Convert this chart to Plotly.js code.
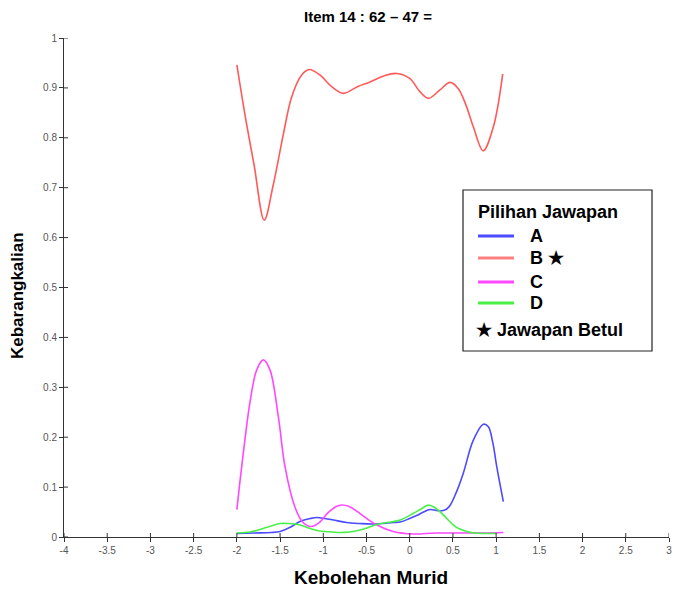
<!DOCTYPE html>
<html>
<head>
<meta charset="utf-8">
<script src="https://cdn.plot.ly/plotly-3.0.1.min.js"></script>
<style>html,body{margin:0;padding:0;background:#fff;}#chart{width:673px;height:590px;}</style>
</head>
<body>
<div id="chart"></div>
<script>
// ---- data ----
var titleText = "Item 14 : 62 \u2013 47 =";
var xTitle = "Kebolehan Murid";
var yTitle = "Kebarangkalian";
var legendTitle = "Pilihan Jawapan";
var optionNames = ["A", "B \u2605", "C", "D"];
var correctNote = "\u2605 Jawapan Betul";

var xTickVals = [-4,-3.5,-3,-2.5,-2,-1.5,-1,-0.5,0,0.5,1,1.5,2,2.5,3];
var xTickText = ["-4","-3.5","-3","-2.5","-2","-1.5","-1","-0.5","0","0.5","1","1.5","2","2.5","3"];
var yTickVals = [0,0.1,0.2,0.3,0.4,0.5,0.6,0.7,0.8,0.9,1];
var yTickText = ["0","0.1","0.2","0.3","0.4","0.5","0.6","0.7","0.8","0.9","1"];

var xA = [-2.0,-1.8,-1.6,-1.5,-1.366,-1.27,-1.15,-1.076,-0.98,-0.884,-0.73,-0.58,-0.42,-0.19,-0.11,0.0,0.08,0.16,0.235,0.35,0.42,0.466,0.54,0.62,0.736,0.852,0.91,0.96,1.007,1.083];
var yA = [0.007,0.008,0.009,0.011,0.021,0.031,0.037,0.039,0.037,0.034,0.029,0.027,0.026,0.029,0.030,0.037,0.043,0.050,0.055,0.052,0.055,0.063,0.090,0.128,0.194,0.226,0.221,0.190,0.141,0.071];

var xB = [-2.0,-1.9,-1.8,-1.683,-1.58,-1.46,-1.366,-1.25,-1.162,-1.04,-0.9,-0.768,-0.6,-0.46,-0.3,-0.15,0.0,0.12,0.215,0.35,0.466,0.56,0.65,0.736,0.85,0.968,1.076];
var yB = [0.946,0.84,0.745,0.635,0.705,0.809,0.882,0.926,0.937,0.926,0.902,0.889,0.903,0.912,0.924,0.929,0.919,0.892,0.879,0.896,0.911,0.899,0.866,0.822,0.774,0.822,0.928];

var xC = [-2.0,-1.944,-1.85,-1.77,-1.694,-1.617,-1.52,-1.443,-1.33,-1.24,-1.14,-1.04,-0.95,-0.85,-0.787,-0.7,-0.575,-0.48,-0.38,-0.19,0.04,0.3,0.6,0.85,1.083];
var yC = [0.055,0.141,0.268,0.335,0.355,0.335,0.241,0.141,0.061,0.030,0.021,0.030,0.048,0.061,0.064,0.061,0.047,0.035,0.024,0.011,0.006,0.008,0.008,0.008,0.009];

var xD = [-2.0,-1.85,-1.75,-1.6,-1.5,-1.4,-1.27,-1.15,-1.04,-0.9,-0.807,-0.7,-0.575,-0.48,-0.38,-0.19,-0.11,0.04,0.13,0.215,0.28,0.35,0.43,0.505,0.58,0.66,0.75,0.85,1.0];
var yD = [0.008,0.010,0.014,0.022,0.027,0.027,0.024,0.017,0.012,0.010,0.009,0.010,0.014,0.019,0.025,0.031,0.034,0.047,0.056,0.064,0.060,0.051,0.037,0.024,0.016,0.011,0.008,0.007,0.007];

var colors = ["#4b4bff", "#ff5a5a", "#ff48ff", "#48f048"];
var legendColors = ["#4b4bff", "#ff8080", "#ff48ff", "#48f048"];

// ---- chart ----
var FONT = "Arial, 'Liberation Sans', sans-serif";
var W = 673, H = 590;
var M = {l: 64, r: 4, t: 38, b: 53};
var PW = W - M.l - M.r, PH = H - M.t - M.b;
function px(x) { return (x - M.l) / PW; }
function py(y) { return (H - M.b - y) / PH; }

var series = [[xA,yA],[xB,yB],[xC,yC],[xD,yD]];
var traces = series.map(function(s, i) {
  return {
    x: s[0], y: s[1], type: "scatter", mode: "lines", name: optionNames[i],
    line: {color: colors[i], width: 1.6, shape: "spline", smoothing: 1},
    showlegend: false, hoverinfo: "skip"
  };
});

var shapes = [];
// inner half of the crossing tick marks
xTickVals.forEach(function(v) {
  shapes.push({type: "line", xref: "x", yref: "y", ysizemode: "pixel", yanchor: 0,
    x0: v, x1: v, y0: 0, y1: 4, line: {color: "#333", width: 1}});
});
yTickVals.forEach(function(v) {
  shapes.push({type: "line", xref: "x", yref: "y", xsizemode: "pixel", xanchor: -4,
    y0: v, y1: v, x0: 0, x1: 4, line: {color: "#333", width: 1}});
});
shapes.push({
  type: "rect", xref: "paper", yref: "paper",
  x0: px(463), x1: px(652), y0: py(351), y1: py(190),
  line: {color: "#222", width: 1.2}, fillcolor: "#fff", layer: "above"
});
var annotations = [
  {text: "<b>" + xTitle + "</b>", xref: "paper", yref: "paper", x: px(371), y: py(577),
   showarrow: false, xanchor: "center", yanchor: "middle", font: {family: FONT, size: 19, color: "#000"}},
  {text: "<b>" + yTitle + "</b>", xref: "paper", yref: "paper", x: px(17), y: py(296),
   showarrow: false, xanchor: "center", yanchor: "middle", textangle: -90, font: {family: FONT, size: 17, color: "#000"}},
  {text: "<b>" + legendTitle + "</b>", xref: "paper", yref: "paper", x: px(476), y: py(212),
   showarrow: false, xanchor: "left", yanchor: "middle", font: {family: FONT, size: 18, color: "#000"}}
];
var itemY = [236, 258, 282, 303];
optionNames.forEach(function(n, i) {
  shapes.push({type: "line", xref: "paper", yref: "paper", x0: px(478), x1: px(514),
    y0: py(itemY[i]), y1: py(itemY[i]), line: {color: legendColors[i], width: 3}, layer: "above"});
  annotations.push({text: "<b>" + n + "</b>", xref: "paper", yref: "paper", x: px(528), y: py(itemY[i]),
    showarrow: false, xanchor: "left", yanchor: "middle", font: {family: FONT, size: 18, color: "#000"}});
});
annotations.push({text: "<b>" + correctNote + "</b>", xref: "paper", yref: "paper", x: px(474), y: py(330),
  showarrow: false, xanchor: "left", yanchor: "middle", font: {family: FONT, size: 18, color: "#000"}});

var layout = {
  width: W, height: H,
  margin: M,
  paper_bgcolor: "#fff", plot_bgcolor: "#fff",
  showlegend: false,
  title: {text: "<b>" + titleText + "</b>", x: px(368), xref: "paper", xanchor: "center",
          y: 1 - 17 / H, yref: "container", yanchor: "middle", font: {family: FONT, size: 15, color: "#000"}},
  xaxis: {range: [-4, 3], tickvals: xTickVals, ticktext: xTickText, showgrid: false, zeroline: false,
          showline: true, linecolor: "#333", linewidth: 1, ticks: "outside", ticklen: 4, tickcolor: "#333",
          tickfont: {family: FONT, size: 10, color: "#555"}, fixedrange: true},
  yaxis: {range: [0, 1], tickvals: yTickVals, ticktext: yTickText, showgrid: false, zeroline: false,
          showline: true, linecolor: "#333", linewidth: 1, ticks: "outside", ticklen: 4, tickcolor: "#333",
          tickfont: {family: FONT, size: 10, color: "#555"}, fixedrange: true},
  shapes: shapes,
  annotations: annotations
};

Plotly.newPlot("chart", traces, layout, {displayModeBar: false, staticPlot: true});
</script>
</body>
</html>
